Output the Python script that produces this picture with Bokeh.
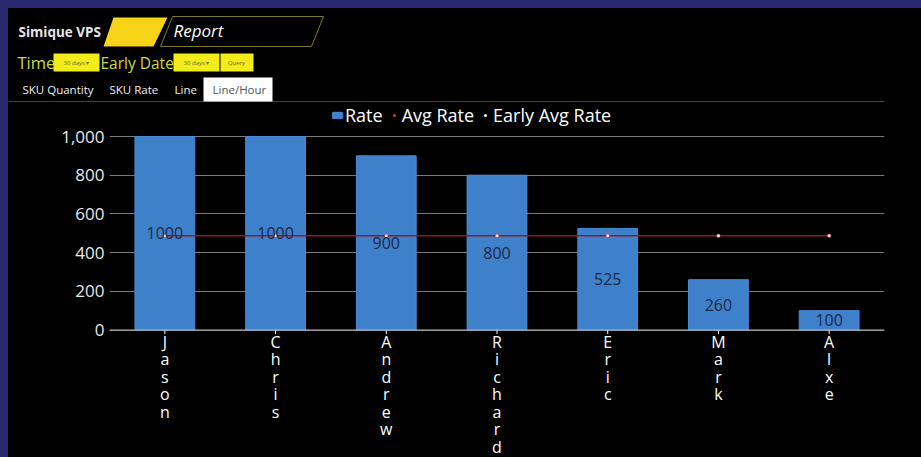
from bokeh.plotting import figure
from bokeh.layouts import column
from bokeh.models import (ColumnDataSource, Legend, LegendItem, LabelSet, Span,
                          NumeralTickFormatter, FixedTicker, Range1d)
from bokeh.core.properties import value
from bokeh.embed import file_html
from bokeh.resources import INLINE

# ---- data ----
names = ["Jason", "Chris", "Andrew", "Richard", "Eric", "Mark", "Alxe"]
rate = [1000, 1000, 900, 800, 525, 260, 100]
avg_rate = [487, 487, 487, 487, 487, 487, 487]
early_avg_rate = [487, 487, 487, 487, 487, 487, 487]
y_ticks = [0, 200, 400, 600, 800, 1000]

FONT = "Open Sans"
W = 913
HEAD_H = 94
CHART_H = 355

BAR_FILL = "#3f80cb"
BAR_LINE = "#4a8ad6"
AVG_COLOR = "#d0303f"
EARLY_COLOR = "#f2e6e8"

# ================= header (UI strip) =================
hd = figure(width=W, height=HEAD_H, x_range=Range1d(0, W), y_range=Range1d(HEAD_H, 0),
            output_backend="svg", toolbar_location=None,
            background_fill_color="black", border_fill_color="black",
            outline_line_color=None, min_border=0)
hd.axis.visible = False
hd.grid.visible = False

def htext(x, y, t, size, color, style="normal", align="left"):
    hd.text(x=[x], y=[y], text=[t], text_font=value(FONT), text_font_size=size,
            text_color=color, text_font_style=style, text_align=align,
            text_baseline="middle")

def hbox(l, r, t, b, color):
    hd.quad(left=[l], right=[r], top=[t], bottom=[b], fill_color=color, line_color=None)

htext(10, 23, "Simique VPS", "13.5px", "#e6e6e6", style="bold")
hd.patch([105, 159, 145, 95], [9, 9, 38, 38], fill_color="#f7d417", line_color=None)
hd.patch([164, 315, 303, 152], [8, 8, 38, 38], fill_alpha=0, line_color="#7d7a2e", line_width=1)
htext(165, 22, "Report", "17px", "white", style="italic")

hbox(45, 91, 45, 63, "#f2ec1a")
hbox(165, 211, 45, 63, "#f2ec1a")
hbox(212, 245, 45, 63, "#f2ec1a")
htext(9, 54, "Time", "16.5px", "#cfd944")
htext(92, 54, "Early Date", "15.5px", "#cfd944")
htext(68, 54, "30 days ▾", "6px", "#6b6b2a", align="center")
htext(188, 54, "30 days ▾", "6px", "#6b6b2a", align="center")
htext(228, 54, "Query", "6px", "#6b6b2a", align="center")

hbox(0, 876, 92.8, 94, "#5a5a5a")
hbox(195, 264, 69, 93, "white")
htext(14, 81, "SKU Quantity", "11.5px", "#f0f0f0")
htext(101, 81, "SKU Rate", "11.5px", "#f0f0f0")
htext(166, 81, "Line", "11.5px", "#f0f0f0")
htext(204, 81, "Line/Hour", "11.5px", "#555555")

# ================= chart =================
top_px = 34.0            # chart-canvas y of value 1000
zero_px = 227.5          # chart-canvas y of value 0
px_per_unit = (zero_px - top_px) / 1000.0
y_end = 1000 + top_px / px_per_unit
y_start = -(CHART_H - zero_px) / px_per_unit

src = ColumnDataSource(dict(name=names, rate=rate, mid=[r / 2 for r in rate],
                            lbl=[str(r) for r in rate]))

p = figure(x_range=names, y_range=Range1d(y_start, y_end), width=W, height=CHART_H,
           output_backend="svg", toolbar_location=None,
           background_fill_color="black", border_fill_color="black",
           outline_line_color=None,
           min_border_left=101, min_border_right=37,
           min_border_top=0, min_border_bottom=0)

for fig in (hd, p):
    if "frame_align" in fig.properties():
        fig.frame_align = False

p.xgrid.grid_line_color = None
p.ygrid.ticker = FixedTicker(ticks=y_ticks)
p.ygrid.grid_line_color = "#7a7a7a"

bars = p.vbar(x="name", top="rate", width=0.54, source=src,
              fill_color=BAR_FILL, line_color=BAR_LINE, line_width=1)

p.add_layout(LabelSet(x="name", y="mid", text="lbl", source=src,
                      text_align="center", text_baseline="middle",
                      text_font=value(FONT), text_font_size="16px",
                      text_color="#1b2947"))

p.line(names, avg_rate, line_color="#8e1b2d", line_width=1.3)
avg_pts = p.scatter(names, avg_rate, size=4, fill_color=AVG_COLOR, line_color=None)
early_pts = p.scatter(names, early_avg_rate, size=3, fill_color=EARLY_COLOR, line_color=None)

legend = Legend(items=[LegendItem(label="Rate", renderers=[bars]),
                       LegendItem(label="Avg Rate", renderers=[avg_pts]),
                       LegendItem(label="Early Avg Rate", renderers=[early_pts])],
                orientation="horizontal", location=(222, CHART_H - 26),
                background_fill_alpha=0, border_line_color=None,
                label_text_color="white", label_text_font=FONT,
                label_text_font_size="18px", label_height=26,
                glyph_width=12, glyph_height=8, label_standoff=2, spacing=5,
                padding=0, margin=0)
p.add_layout(legend, "center")

# category axis drawn at value 0: axis line, ticks, stacked letters
p.add_layout(Span(location=0, dimension="width", line_color="#b8b8b8", line_width=1))
p.segment(x0=names, y0=[0] * len(names), x1=names, y1=[-4 / px_per_unit] * len(names),
          line_color="white", line_width=1)
lx, lch, loff = [], [], []
for n in names:
    for k, ch in enumerate(n):
        lx.append(n)
        lch.append(ch)
        loff.append(11.5 + 17.5 * k)
p.text(x=lx, y=[0] * len(lx), text=lch, y_offset=loff,
       text_font=value(FONT), text_font_size="16px", text_color="white",
       text_align="center", text_baseline="middle")

p.xaxis.visible = False
p.yaxis.ticker = FixedTicker(ticks=y_ticks)
p.yaxis.formatter = NumeralTickFormatter(format="0,0")
p.yaxis.axis_line_color = None
p.yaxis.major_tick_line_color = None
p.yaxis.major_tick_out = 0
p.yaxis.major_tick_in = 0
p.yaxis.minor_tick_line_color = None
p.yaxis.major_label_text_color = "#e8e8e8"
p.yaxis.major_label_text_font = FONT
p.yaxis.major_label_text_font_size = "17px"
p.yaxis.major_label_standoff = 5

layout = column(hd, p, spacing=0)

html = file_html(layout, INLINE)
html = html.replace("</head>", "<style>html{background:#28296e !important;overflow:hidden !important}"
                    "body{margin:8px 0 0 8px !important;height:auto !important;"
                    "background:black !important;overflow:hidden !important}</style></head>", 1)
open("out.html", "w").write(html)
